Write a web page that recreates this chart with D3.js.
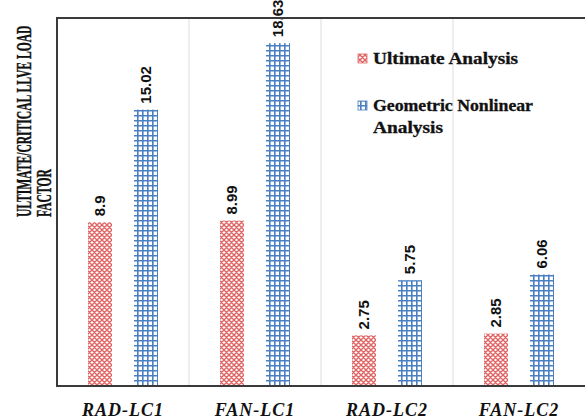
<!DOCTYPE html>
<html>
<head>
<meta charset="utf-8">
<script src="https://cdn.jsdelivr.net/npm/d3@7"></script>
<style>
  html, body { margin: 0; padding: 0; background: #fff; }
  svg { display: block; }
</style>
</head>
<body>
<svg id="chart" width="585" height="420"></svg>
<script>
// Load factors per model / load case
const categories = ["RAD-LC1", "FAN-LC1", "RAD-LC2", "FAN-LC2"];
const seriesNames = ["Ultimate Analysis", "Geometric Nonlinear Analysis"];
const ultimate = [8.9, 8.99, 2.75, 2.85];
const geometric = [15.02, 18.63, 5.75, 6.06];
const yTitleLines = ["ULTIMATE/CRITICAL LLVE LOAD", "FACTOR"];

const W = 585, H = 420;
const m = { left: 57, right: 0, top: 18, bottom: 34 };
const svg = d3.select("#chart");

const rows = categories.map((c, i) => ({ cat: c, vals: [ultimate[i], geometric[i]] }));

const x0 = d3.scaleBand().domain(categories).range([m.left, W - m.right]).padding(0);
const x1 = d3.scaleBand().domain([0, 1]).range([0, x0.bandwidth()])
  .paddingInner(0.478).paddingOuter(0.674);
const y = d3.scaleLinear().domain([0, 20]).range([H - m.bottom, m.top]);

// Fill patterns
const defs = svg.append("defs");
const red = "#e06666", blue = "#4a7fc1";
const pr = defs.append("pattern").attr("id", "pRed").attr("patternUnits", "userSpaceOnUse")
  .attr("width", 5).attr("height", 5);
pr.append("rect").attr("width", 5).attr("height", 5).attr("fill", "#fff");
pr.append("path").attr("d", "M0,0L5,5M5,0L0,5M-1,4L1,6M4,-1L6,1M-1,1L1,-1M4,6L6,4")
  .attr("stroke", red).attr("stroke-width", 1.4).attr("fill", "none");
const pb = defs.append("pattern").attr("id", "pBlue").attr("patternUnits", "userSpaceOnUse")
  .attr("width", 5).attr("height", 5);
pb.append("rect").attr("width", 5).attr("height", 5).attr("fill", "#fff");
pb.append("path").attr("d", "M0.8,0V5M0,0.8H5")
  .attr("stroke", blue).attr("stroke-width", 1.6).attr("fill", "none");
const fills = ["url(#pRed)", "url(#pBlue)"];

// Category separators
svg.append("g").selectAll("line").data(categories.slice(1)).join("line")
  .attr("x1", d => x0(d)).attr("x2", d => x0(d))
  .attr("y1", m.top).attr("y2", H - m.bottom)
  .attr("stroke", "#dcdcdc").attr("stroke-width", 1);

// Bars
const groups = svg.append("g").selectAll("g").data(rows).join("g")
  .attr("transform", d => `translate(${x0(d.cat)},0)`);
groups.selectAll("rect").data(d => d.vals.map((v, k) => ({ v, k }))).join("rect")
  .attr("x", d => x1(d.k)).attr("width", x1.bandwidth())
  .attr("y", d => y(d.v)).attr("height", d => y(0) - y(d.v))
  .attr("fill", d => fills[d.k]);

// Value labels (rotated)
groups.selectAll("text").data(d => d.vals.map((v, k) => ({ v, k }))).join("text")
  .attr("transform", d => `translate(${x1(d.k) + x1.bandwidth() / 2 + 5},${y(d.v) - 6}) rotate(-90)`)
  .attr("text-anchor", "start")
  .attr("font-family", "'Liberation Sans', Arial, sans-serif")
  .attr("font-weight", "bold").attr("font-size", 15).attr("fill", "#111")
  .text(d => d.v);

// Frame
svg.append("path")
  .attr("d", `M${W + 5},${m.top}H${m.left}V${H - m.bottom}H${W + 5}`)
  .attr("fill", "none").attr("stroke", "#3a3a3a").attr("stroke-width", 2);

// Category axis
const xAxis = svg.append("g").attr("transform", `translate(0,${H - m.bottom})`)
  .call(d3.axisBottom(x0).tickSize(0).tickPadding(17));
xAxis.select(".domain").remove();
xAxis.selectAll("text")
  .attr("font-family", "'Liberation Serif', 'Times New Roman', serif")
  .attr("font-style", "italic").attr("font-weight", "bold")
  .attr("font-size", 18).attr("fill", "#111").attr("letter-spacing", 1);

// Y title, two rotated lines squeezed along their length
yTitleLines.forEach((t, i) => {
  svg.append("text")
    .attr("transform", `translate(${31 + i * 20},217) rotate(-90) scale(0.58,1)`)
    .attr("text-anchor", "start")
    .attr("font-family", "'Liberation Serif', 'Times New Roman', serif")
    .attr("font-weight", "bold").attr("font-size", 20).attr("fill", "#111")
    .attr("stroke", "#111").attr("stroke-width", 0.4)
    .text(t);
});

// Legend
const legend = [
  { label: ["Ultimate Analysis"], y: 64, len: [145] },
  { label: ["Geometric Nonlinear", "Analysis"], y: 111, len: [160, 70] }
];
legend.forEach((l, k) => {
  svg.append("rect").attr("x", 358).attr("y", l.y - 10).attr("width", 9).attr("height", 9)
    .attr("fill", fills[k]).attr("stroke", k ? blue : red).attr("stroke-width", 0.8);
  l.label.forEach((t, j) => {
    svg.append("text").attr("x", 373).attr("y", l.y + j * 22)
      .attr("font-family", "'Liberation Serif', 'Times New Roman', serif")
      .attr("font-weight", "bold").attr("font-size", 16).attr("fill", "#111")
      .attr("stroke", "#111").attr("stroke-width", 0.3)
      .attr("textLength", l.len[j]).attr("lengthAdjust", "spacingAndGlyphs")
      .text(t);
  });
});
</script>
</body>
</html>
